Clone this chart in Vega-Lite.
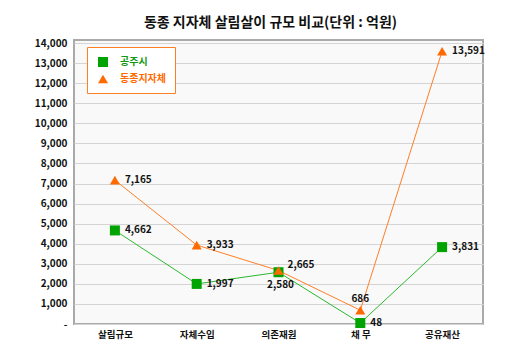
{
  "$schema": "https://vega.github.io/schema/vega-lite/v6.json",
  "width": 409,
  "height": 284,
  "autosize": "none",
  "padding": {"left": 74, "top": 40, "right": 48, "bottom": 32},
  "background": "#ffffff",
  "title": {
    "text": "동종 지자체 살림살이 규모 비교(단위 : 억원)",
    "font": "Noto Sans CJK KR",
    "fontSize": 14,
    "fontWeight": "bold",
    "color": "#111111",
    "anchor": "middle",
    "dx": -8,
    "offset": 8
  },
  "config": {
    "font": "Noto Sans CJK KR",
    "view": {"fill": "#f9f9f9", "stroke": "#aaaaaa", "strokeWidth": 2}
  },
  "data": {
    "values": [
      {"category": "살림규모", "series": "공주시", "value": 4662},
      {"category": "자체수입", "series": "공주시", "value": 1997},
      {"category": "의존재원", "series": "공주시", "value": 2580},
      {"category": "채 무", "series": "공주시", "value": 48},
      {"category": "공유재산", "series": "공주시", "value": 3831},
      {"category": "살림규모", "series": "동종지자체", "value": 7165},
      {"category": "자체수입", "series": "동종지자체", "value": 3933},
      {"category": "의존재원", "series": "동종지자체", "value": 2665},
      {"category": "채 무", "series": "동종지자체", "value": 686},
      {"category": "공유재산", "series": "동종지자체", "value": 13591}
    ]
  },
  "encoding": {
    "x": {
      "field": "category",
      "type": "nominal",
      "sort": ["살림규모", "자체수입", "의존재원", "채 무", "공유재산"],
      "scale": {"type": "point", "padding": 0.5},
      "axis": {
        "title": null,
        "labelAngle": 0,
        "ticks": false,
        "domain": false,
        "labelFontSize": 9.5,
        "labelFontWeight": "bold",
        "labelColor": "#111111",
        "labelPadding": 5
      }
    },
    "y": {
      "field": "value",
      "type": "quantitative",
      "scale": {"domain": [0, 14150], "nice": false, "zero": true},
      "axis": {
        "title": null,
        "values": [0, 1000, 2000, 3000, 4000, 5000, 6000, 7000, 8000, 9000, 10000, 11000, 12000, 13000, 14000],
        "labelExpr": "datum.value === 0 ? '-' : format(datum.value, ',')",
        "ticks": false,
        "domain": false,
        "gridColor": "#d4d4d4",
        "gridWidth": 1,
        "labelFontSize": 10,
        "labelFontWeight": "bold",
        "labelColor": "#111111",
        "labelPadding": 7
      }
    }
  },
  "layer": [
    {
      "mark": {"type": "line", "strokeWidth": 1},
      "encoding": {
        "detail": {"field": "series", "type": "nominal"},
        "stroke": {
          "condition": {"test": "datum.series === '공주시'", "value": "#2db82d"},
          "value": "#ff7f27"
        }
      }
    },
    {
      "mark": {"type": "point", "filled": true, "opacity": 1, "size": 100},
      "encoding": {
        "color": {
          "field": "series",
          "type": "nominal",
          "scale": {"domain": ["공주시", "동종지자체"], "range": ["#00a400", "#ff6a00"]},
          "legend": {
            "title": null,
            "orient": "none",
            "legendX": 13,
            "legendY": 7,
            "direction": "vertical",
            "fillColor": "#ffffff",
            "strokeColor": "#ff7f27",
            "padding": 9,
            "cornerRadius": 0,
            "symbolSize": 100,
            "symbolOffset": 1,
            "labelFontSize": 10,
            "labelFontWeight": "bold",
            "labelOffset": 11,
            "rowPadding": 6,
            "labelColor": {"expr": "datum.value === '공주시' ? '#119911' : '#ff6a00'"}
          }
        },
        "shape": {
          "field": "series",
          "type": "nominal",
          "scale": {"domain": ["공주시", "동종지자체"], "range": ["square", "triangle-up"]}
        }
      }
    },
    {
      "transform": [
        {"filter": "!((datum.category === '의존재원') || (datum.category === '채 무' && datum.series === '동종지자체'))"}
      ],
      "mark": {"type": "text", "align": "left", "baseline": "middle", "dx": 10, "fontSize": 10, "fontWeight": "bold", "color": "#111111"},
      "encoding": {"text": {"field": "value", "type": "quantitative", "format": ","}}
    },
    {
      "transform": [
        {"filter": "datum.category === '의존재원' && datum.series === '동종지자체'"}
      ],
      "mark": {"type": "text", "align": "left", "baseline": "middle", "dx": 9, "dy": -6, "fontSize": 10, "fontWeight": "bold", "color": "#111111"},
      "encoding": {"text": {"field": "value", "type": "quantitative", "format": ","}}
    },
    {
      "transform": [
        {"filter": "datum.category === '의존재원' && datum.series === '공주시'"}
      ],
      "mark": {"type": "text", "align": "center", "baseline": "middle", "dx": 2, "dy": 13, "fontSize": 10, "fontWeight": "bold", "color": "#111111"},
      "encoding": {"text": {"field": "value", "type": "quantitative", "format": ","}}
    },
    {
      "transform": [
        {"filter": "datum.category === '채 무' && datum.series === '동종지자체'"}
      ],
      "mark": {"type": "text", "align": "center", "baseline": "middle", "dy": -11, "fontSize": 10, "fontWeight": "bold", "color": "#111111"},
      "encoding": {"text": {"field": "value", "type": "quantitative", "format": ","}}
    }
  ]
}
